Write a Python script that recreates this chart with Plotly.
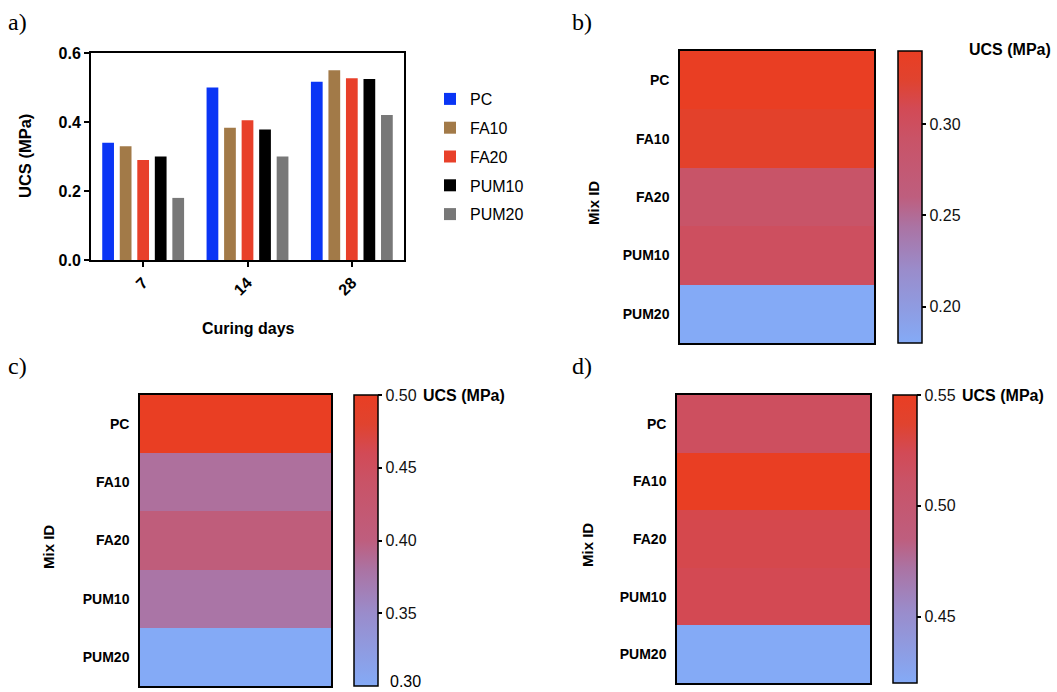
import plotly.graph_objects as go

days = ["7", "14", "28"]
mixes = ["PC", "FA10", "FA20", "PUM10", "PUM20"]
ucs = {
    "PC":    [0.34, 0.50, 0.517],
    "FA10":  [0.33, 0.383, 0.55],
    "FA20":  [0.29, 0.405, 0.527],
    "PUM10": [0.30, 0.378, 0.525],
    "PUM20": [0.18, 0.30, 0.42],
}
bar_colors = {"PC": "#0A35F5", "FA10": "#A27A48", "FA20": "#E8402A",
              "PUM10": "#000000", "PUM20": "#787878"}
cb_ticks = [[0.20, 0.25, 0.30], [0.35, 0.40, 0.45, 0.50], [0.45, 0.50, 0.55]]

W, H = 1057, 692
def px(x): return x / W
def py(y): return 1 - y / H

cscale = [[0.0, "#84AAF6"], [0.25, "#9A8CCB"], [0.4, "#AB73A3"], [0.5, "#BE5E7E"],
          [0.7, "#C95367"], [0.8, "#D24A56"], [0.9, "#E0432F"], [1.0, "#E93E23"]]

fig = go.Figure()
BF = "Liberation Sans"

for i, m in enumerate(mixes):
    fig.add_trace(go.Bar(x=days, y=ucs[m], name=m, marker=dict(color=bar_colors[m], line=dict(width=0)),
                         legendgroup=m, xaxis="x", yaxis="y"))

panels = [
    dict(idx=0, ax="2", x0=680, x1=874, y0=51, y1=343, cbx=898),
    dict(idx=1, ax="3", x0=140, x1=331, y0=395, y1=686, cbx=354),
    dict(idx=2, ax="4", x0=677, x1=870, y0=395, y1=683, cbx=893),
]
for p in panels:
    z = [[ucs[m][p["idx"]]] for m in mixes]
    fig.add_trace(go.Heatmap(
        z=z, y=mixes, x=["UCS"], colorscale=cscale, xaxis="x" + p["ax"], yaxis="y" + p["ax"],
        showlegend=False,
        colorbar=dict(x=px(p["cbx"]), xanchor="left", y=py((p["y0"] + p["y1"]) / 2), yanchor="middle",
                      len=p["y1"] - p["y0"], lenmode="pixels", thickness=24, thicknessmode="pixels",
                      outlinecolor="black", outlinewidth=1.5, tickvals=cb_ticks[p["idx"]],
                      tickformat=".2f", ticks="outside", ticklen=4, tickwidth=1.5, tickcolor="black",
                      tickfont=dict(family=BF, size=16, color="#111"), xpad=0, ypad=0)))
    fig.update_layout(**{
        "xaxis" + p["ax"]: dict(domain=[px(p["x0"]), px(p["x1"])], anchor="y" + p["ax"], showticklabels=False,
                                ticks="", showline=True, linecolor="black", linewidth=1.5, mirror=True,
                                showgrid=False, zeroline=False, automargin=False),
        "yaxis" + p["ax"]: dict(domain=[py(p["y1"]), py(p["y0"])], anchor="x" + p["ax"], autorange="reversed",
                                ticks="", showline=True, linecolor="black", linewidth=1.5, mirror=True,
                                tickfont=dict(family=BF, size=14, color="black", weight="bold"),
                                ticklabelstandoff=6, showgrid=False, zeroline=False, automargin=False),
    })

fig.update_layout(
    width=W, height=H, margin=dict(l=0, r=0, t=0, b=0, autoexpand=False),
    paper_bgcolor="white", plot_bgcolor="white",
    barmode="group", bargap=0.16, bargroupgap=0.33,
    xaxis=dict(domain=[px(91), px(404)], anchor="y", showline=True, linecolor="black", linewidth=2,
               mirror=True, ticks="outside", ticklen=5, tickwidth=2, tickcolor="black", tickangle=-45,
               tickfont=dict(family=BF, size=16, color="black", weight="bold"), showgrid=False,
               automargin=False),
    yaxis=dict(domain=[py(260), py(53)], anchor="x", range=[0, 0.6], dtick=0.2, tickformat=".1f",
               showline=True, linecolor="black", linewidth=2, mirror=True, ticks="outside", ticklen=5,
               tickwidth=2, tickcolor="black", showgrid=False, zeroline=False, automargin=False,
               tickfont=dict(family=BF, size=16, color="black", weight="bold")),
    legend=dict(x=px(430), y=py(82), xanchor="left", yanchor="top", tracegroupgap=5,
                font=dict(family=BF, size=16, color="black"), itemwidth=30, bgcolor="rgba(0,0,0,0)"),
)

ann = []
def a(text, x, y, size, bold=True, fam=BF, angle=0, xanchor="center"):
    ann.append(dict(text=("<b>%s</b>" % text) if bold else text, x=px(x), y=py(y), xref="paper", yref="paper",
                    showarrow=False, textangle=angle, xanchor=xanchor, yanchor="middle",
                    font=dict(family=fam, size=size, color="black")))

a("a)", 6, 22, 24, bold=False, fam="Liberation Serif", xanchor="left")
a("b)", 570, 22, 24, bold=False, fam="Liberation Serif", xanchor="left")
a("c)", 6, 366, 24, bold=False, fam="Liberation Serif", xanchor="left")
a("d)", 570, 366, 24, bold=False, fam="Liberation Serif", xanchor="left")
a("UCS (MPa)", 25, 156, 16.5, angle=-90)
a("Curing days", 248, 328, 16)
a("Mix ID", 593, 203, 15, angle=-90)
a("Mix ID", 48, 547, 15, angle=-90)
a("Mix ID", 587, 545, 15, angle=-90)
a("UCS (MPa)", 1010, 50, 16)
a("UCS (MPa)", 464, 395, 16)
a("UCS (MPa)", 1003, 395, 16)
a("0.30", 388, 681, 16, bold=False, xanchor="left")
fig.update_layout(annotations=ann)

fig.write_html("out.html", config={"displayModeBar": False},
               post_script="document.body.style.margin='0';document.body.style.overflow='hidden';")
